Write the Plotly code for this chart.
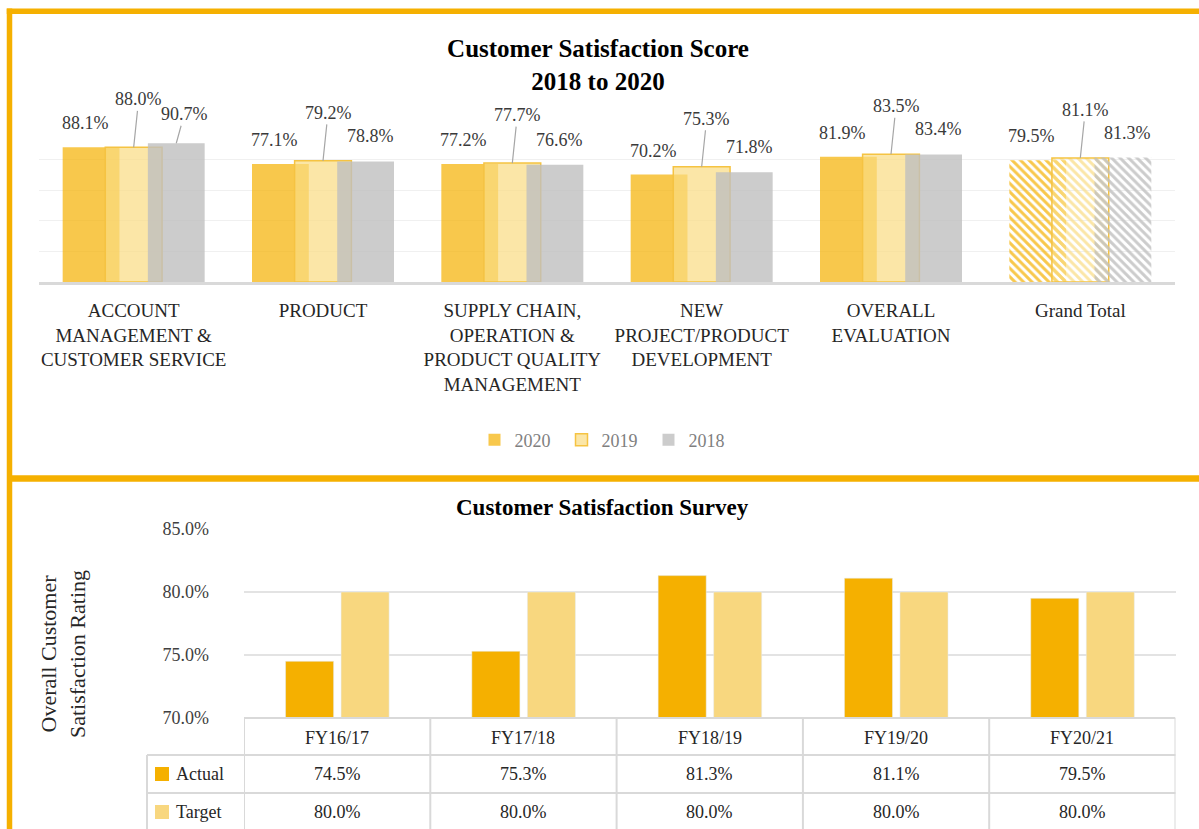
import plotly.graph_objects as go

# ---------------- data ----------------
categories = [
    "ACCOUNT MANAGEMENT & CUSTOMER SERVICE",
    "PRODUCT",
    "SUPPLY CHAIN, OPERATION & PRODUCT QUALITY MANAGEMENT",
    "NEW PROJECT/PRODUCT DEVELOPMENT",
    "OVERALL EVALUATION",
    "Grand Total",
]
category_labels = [
    "ACCOUNT<br>MANAGEMENT &<br>CUSTOMER SERVICE",
    "PRODUCT",
    "SUPPLY CHAIN,<br>OPERATION &<br>PRODUCT QUALITY<br>MANAGEMENT",
    "NEW<br>PROJECT/PRODUCT<br>DEVELOPMENT",
    "OVERALL<br>EVALUATION",
    "Grand Total",
]
years = ["2020", "2019", "2018"]
score_2020 = [88.1, 77.1, 77.2, 70.2, 81.9, 79.5]
score_2019 = [88.0, 79.2, 77.7, 75.3, 83.5, 81.1]
score_2018 = [90.7, 78.8, 76.6, 71.8, 83.4, 81.3]

fiscal_years = ["FY16/17", "FY17/18", "FY18/19", "FY19/20", "FY20/21"]
actual = [74.5, 75.3, 81.3, 81.1, 79.5]
target = [80.0, 80.0, 80.0, 80.0, 80.0]
survey_ticks = [70.0, 75.0, 80.0, 85.0]

# ---------------- style ----------------
W, H = 1199, 829
FONT = "Liberation Serif"
ORANGE = "#F5B000"
LIGHT = "#F8D77F"
GRID = "#D9D9D9"


def PX(x):
    return x / W


def PY(y):
    return 1 - y / H


fig = go.Figure()

# top chart series: (name, values, fill, line color, line width, offset)
series = [
    ("2020", score_2020, "rgba(245,176,0,0.70)", "rgba(0,0,0,0)", 0, -0.375),
    ("2019", score_2019, "rgba(250,220,130,0.70)", "#F5C342", 1.5, -0.15),
    ("2018", score_2018, "rgba(191,191,191,0.80)", "rgba(0,0,0,0)", 0, 0.075),
]
BAR_W = 0.30
patterns = ["\\" if c == "Grand Total" else "" for c in categories]

for name, vals, fill, lc, lw, off in series:
    fig.add_trace(go.Bar(
        x=categories, y=vals, name=name, xaxis="x", yaxis="y",
        width=BAR_W, offset=off,
        marker=dict(color=fill, line=dict(color=lc, width=lw),
                    pattern=dict(shape=patterns, size=6, solidity=0.5, fillmode="replace")),
        hoverinfo="x+y+name",
    ))

# bottom chart
fig.add_trace(go.Bar(x=fiscal_years, y=actual, name="Actual", xaxis="x2", yaxis="y2",
                     width=0.258, offset=-0.277, marker=dict(color=ORANGE), showlegend=False))
fig.add_trace(go.Bar(x=fiscal_years, y=target, name="Target", xaxis="x2", yaxis="y2",
                     width=0.258, offset=0.021, marker=dict(color=LIGHT), showlegend=False))

annotations = []
shapes = []

# data labels top chart
lab_font = dict(family=FONT, size=18, color="#3A3A3A")
centers = {"2020": -0.225, "2019": 0.0, "2018": 0.225}
for i, v in enumerate(score_2020):
    annotations.append(dict(x=i + centers["2020"], y=v, xref="x", yref="y", text=f"{v:.1f}%",
                            showarrow=False, xanchor="center", yanchor="middle",
                            yshift=24, xshift=-6, font=lab_font))
for i, v in enumerate(score_2019):
    annotations.append(dict(x=i + centers["2019"], y=v, xref="x", yref="y", text=f"{v:.1f}%",
                            showarrow=True, arrowhead=0, arrowwidth=1.2, arrowcolor="#A6A6A6",
                            ax=5, ay=-48, standoff=0, font=lab_font))
leader_2018 = [True, False, False, False, False, False]
for i, v in enumerate(score_2018):
    if leader_2018[i]:
        annotations.append(dict(x=i + centers["2018"], y=v, xref="x", yref="y", text=f"{v:.1f}%",
                                showarrow=True, arrowhead=0, arrowwidth=1.2, arrowcolor="#A6A6A6",
                                ax=8, ay=-29, standoff=0, font=lab_font))
    else:
        annotations.append(dict(x=i + centers["2018"], y=v, xref="x", yref="y", text=f"{v:.1f}%",
                                showarrow=False, xanchor="center", yanchor="middle",
                                yshift=25, xshift=5, font=lab_font))

# bottom title
annotations.append(dict(x=PX(602), y=PY(508), xref="paper", yref="paper",
                        text="Customer Satisfaction Survey", showarrow=False,
                        xanchor="center", yanchor="middle",
                        font=dict(family=FONT, size=23, color="#000000", weight="bold")))

# y-axis title of the bottom chart
annotations.append(dict(x=PX(63), y=PY(654), xref="paper", yref="paper",
                        text="Overall Customer<br>Satisfaction Rating", showarrow=False,
                        textangle=-90, xanchor="center", yanchor="middle",
                        font=dict(family=FONT, size=22, color="#262626")))

# data table below bottom chart
tab_font = dict(family=FONT, size=18, color="#262626")
for i, fy in enumerate(fiscal_years):
    for text, yc in [(fy, 738), (f"{actual[i]:.1f}%", 774), (f"{target[i]:.1f}%", 812)]:
        annotations.append(dict(x=i, y=PY(yc), xref="x2", yref="paper", text=text,
                                showarrow=False, xanchor="center", yanchor="middle", font=tab_font))
for label, color, yc in [("Actual", ORANGE, 774), ("Target", LIGHT, 812)]:
    shapes.append(dict(type="rect", xref="paper", yref="paper", x0=PX(155), x1=PX(169),
                       y0=PY(yc + 7), y1=PY(yc - 7), fillcolor=color, line=dict(width=0)))
    annotations.append(dict(x=PX(174), y=PY(yc), xref="paper", yref="paper", text=label,
                            showarrow=False, xanchor="left", yanchor="middle", font=tab_font))

line_style = dict(color=GRID, width=2)
shapes.append(dict(type="line", xref="x2", yref="paper", x0=-0.5, x1=len(fiscal_years) - 0.5,
                   y0=PY(718), y1=PY(718), line=line_style))
for yy in (755, 793, 832):
    shapes.append(dict(type="line", xref="paper", yref="paper", x0=PX(147), x1=PX(1175.5),
                       y0=PY(yy), y1=PY(yy), line=line_style))
shapes.append(dict(type="line", xref="paper", yref="paper", x0=PX(147), x1=PX(147),
                   y0=PY(755), y1=PY(835), line=line_style))
for k in range(len(fiscal_years) + 1):
    shapes.append(dict(type="line", xref="x2", yref="paper", x0=k - 0.5, x1=k - 0.5,
                       y0=PY(718), y1=PY(835), line=line_style))

# panel borders
bw = dict(color=ORANGE, width=5.5)
shapes.append(dict(type="line", xref="paper", yref="paper", x0=PX(6.75), x1=PX(1210),
                   y0=PY(11.3), y1=PY(11.3), line=bw))
shapes.append(dict(type="line", xref="paper", yref="paper", x0=PX(9.5), x1=PX(9.5),
                   y0=PY(8.5), y1=PY(840), line=bw))
shapes.append(dict(type="line", xref="paper", yref="paper", x0=PX(9.5), x1=PX(1210),
                   y0=PY(478.5), y1=PY(478.5), line=dict(color=ORANGE, width=6.5)))

fig.update_layout(
    width=W, height=H,
    margin=dict(l=0, r=0, t=0, b=0, autoexpand=False),
    paper_bgcolor="white", plot_bgcolor="white",
    barmode="overlay",
    font=dict(family=FONT, color="#262626"),
    title=dict(text="Customer Satisfaction Score<br>2018 to 2020", x=PX(598), xanchor="center",
               y=PY(57), yanchor="middle", automargin=False,
               font=dict(family=FONT, size=25, color="#000000", weight="bold")),
    xaxis=dict(domain=[PX(39), PX(1175)], anchor="y", type="category", automargin=False,
               tickvals=categories, ticktext=category_labels, range=[-0.5, 5.5],
               tickfont=dict(family=FONT, size=19, color="#262626"),
               showline=True, linecolor=GRID, linewidth=3, showgrid=False, ticks="",
               ticklabelstandoff=9),
    yaxis=dict(domain=[PY(282), PY(129)], anchor="x", range=[0, 100], dtick=20, automargin=False,
               showticklabels=False, gridcolor="#F0F0F0", gridwidth=1, zeroline=False),
    xaxis2=dict(domain=[PX(244), PX(1175.5)], anchor="y2", type="category", automargin=False,
                range=[-0.5, 4.5], showticklabels=False, showline=False, showgrid=False, ticks=""),
    yaxis2=dict(domain=[PY(718), PY(529)], anchor="x2", range=[70, 85], automargin=False,
                tickvals=survey_ticks, ticktext=[f"{t:.1f}%" for t in survey_ticks],
                tickfont=dict(family=FONT, size=18, color="#404040"),
                gridcolor="#E3E3E3", gridwidth=1.5, zeroline=False, ticklabelstandoff=34),
    legend=dict(orientation="h", x=PX(605), xanchor="center", y=PY(440), yanchor="middle",
                font=dict(family=FONT, size=18, color="#7F7F7F"), bgcolor="rgba(0,0,0,0)",
                entrywidth=42, entrywidthmode="pixels"),
    annotations=annotations,
    shapes=shapes,
)

fig.write_html("out.html", config={"displayModeBar": False},
               post_script="document.body.style.margin='0';")
